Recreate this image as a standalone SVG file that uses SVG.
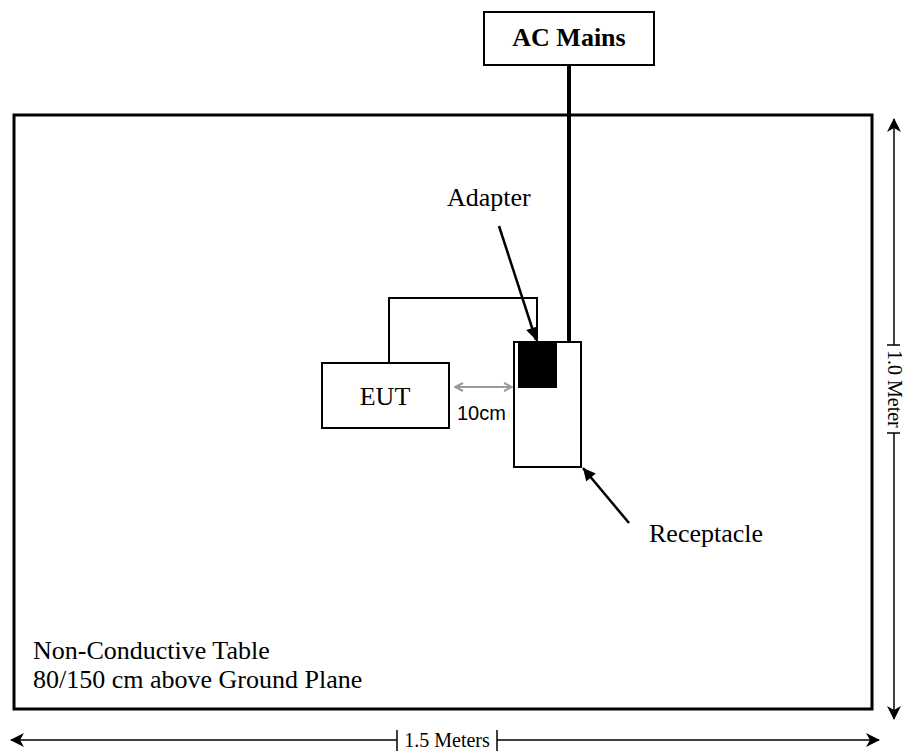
<svg xmlns="http://www.w3.org/2000/svg" width="903" height="753" viewBox="0 0 903 753">
<defs>
<style>
.t{font-family:"Liberation Serif","Times New Roman",serif;fill:#000}
.box{fill:#fff;stroke:#000;stroke-width:2}
.ln{fill:none;stroke:#000}
</style>
<marker id="ah" viewBox="0 0 10 10" refX="10" refY="5" markerWidth="6" markerHeight="5" markerUnits="strokeWidth" orient="auto-start-reverse">
<path d="M0,0 L10,5 L0,10 z" fill="#000"/>
</marker>
<marker id="dim" viewBox="0 0 14 14" refX="13" refY="7" markerWidth="14" markerHeight="14" markerUnits="userSpaceOnUse" orient="auto-start-reverse">
<path d="M0,0 L14,7 L0,14 L4,7 z" fill="#000"/>
</marker>
<marker id="gr" viewBox="0 0 10 10" refX="9" refY="5" markerWidth="10" markerHeight="10" markerUnits="userSpaceOnUse" orient="auto-start-reverse">
<path d="M1,1 L9,5 L1,9" fill="none" stroke="#999" stroke-width="2"/>
</marker>
</defs>
<rect width="903" height="753" fill="#fff"/>

<g id="table">
<rect x="14" y="115" width="858" height="594" fill="none" stroke="#000" stroke-width="3"/>
<text class="t" x="33" y="659" font-size="26">Non-Conductive Table</text>
<text class="t" x="33" y="688" font-size="26">80/150 cm above Ground Plane</text>
</g>

<g id="connectors">
<line class="ln" x1="569" y1="65" x2="569" y2="342" stroke-width="4"/>
<polyline class="ln" points="389,363 389,298 537,298 537,342" stroke-width="2"/>
<line class="ln" x1="499" y1="226" x2="536" y2="340" stroke-width="2.5" marker-end="url(#ah)"/>
<line class="ln" x1="629" y1="523" x2="583" y2="468" stroke-width="2.5" marker-end="url(#ah)"/>
<line x1="455" y1="387" x2="512" y2="387" stroke="#999" stroke-width="2" marker-start="url(#gr)" marker-end="url(#gr)"/>
</g>

<g id="ac-mains">
<rect class="box" x="484" y="12" width="170" height="53"/>
<text class="t" x="569" y="46" font-size="26" font-weight="bold" text-anchor="middle">AC Mains</text>
</g>

<g id="eut">
<rect class="box" x="322" y="363" width="127" height="65"/>
<text class="t" x="385" y="405" font-size="26" text-anchor="middle">EUT</text>
</g>

<g id="receptacle">
<rect class="box" x="514" y="342" width="67" height="125"/>
<text class="t" x="649" y="542" font-size="26">Receptacle</text>
</g>

<g id="adapter">
<rect x="518" y="342" width="39" height="46" fill="#000"/>
<text class="t" x="447" y="206" font-size="26">Adapter</text>
</g>

<g id="gap-label">
<text x="457" y="420" font-size="20" font-family="'Liberation Sans',Arial,sans-serif">10cm</text>
</g>

<g id="dim-height">
<line class="ln" x1="894" y1="119" x2="894" y2="345" stroke-width="1.5" marker-start="url(#dim)"/>
<line class="ln" x1="894" y1="433" x2="894" y2="719" stroke-width="1.5" marker-end="url(#dim)"/>
<line class="ln" x1="887" y1="345" x2="900" y2="345" stroke-width="1.5"/>
<line class="ln" x1="887" y1="433" x2="900" y2="433" stroke-width="1.5"/>
<text class="t" x="0" y="0" font-size="20" transform="translate(888,350) rotate(90)">1.0 Meter</text>
</g>

<g id="dim-width">
<line class="ln" x1="11" y1="740" x2="397" y2="740" stroke-width="1.5" marker-start="url(#dim)"/>
<line class="ln" x1="497" y1="740" x2="879" y2="740" stroke-width="1.5" marker-end="url(#dim)"/>
<line class="ln" x1="397" y1="730" x2="397" y2="751" stroke-width="1.5"/>
<line class="ln" x1="497" y1="730" x2="497" y2="751" stroke-width="1.5"/>
<text class="t" x="447" y="747" font-size="20" text-anchor="middle">1.5 Meters</text>
</g>
</svg>
